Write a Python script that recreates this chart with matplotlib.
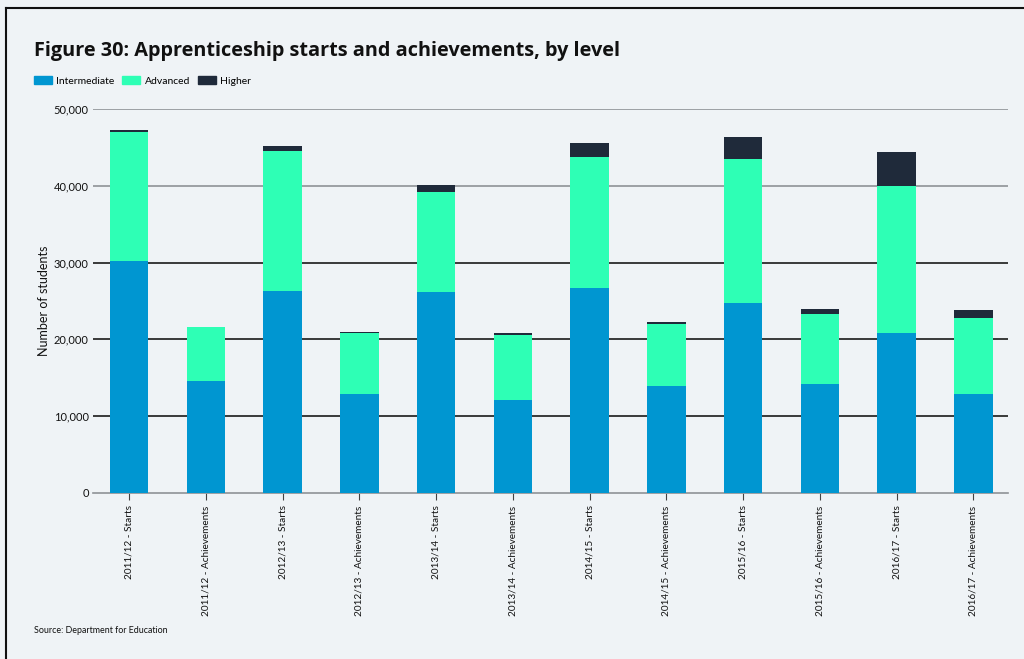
import matplotlib.pyplot as plt
from matplotlib.lines import Line2D
from matplotlib.patches import Patch
from matplotlib.ticker import FuncFormatter
import numpy as np

## categorías
years = ["2011/12", "2012/13", "2013/14", "2014/15", "2015/16", "2016/17"]
kinds = ["Starts", "Achievements"]
labels = [f"{y} - {k}" for y in years for k in kinds]

## valores por nivel (número de estudiantes)
intermediate = [30200, 14540, 26340, 12890, 26130, 12070,
                26650, 13930, 24780, 14150, 20870, 12930]
advanced = [16800, 7030, 18230, 7980, 13100, 8540,
            17140, 8030, 18750, 9110, 19100, 9860]
higher = [270, 0, 570, 130, 870, 180,
          1820, 260, 2860, 700, 4470, 1080]

bg = "#eff3f6"
c_int = "#0096d1"
c_adv = "#2effb5"
c_high = "#1f2a3a"
gray = "#8e9296"

plt.rcParams['font.family'] = ['Lato', 'DejaVu Sans']

fig = plt.figure(figsize=(10.24, 6.59), dpi=100, facecolor=bg)
ax = fig.add_axes([0.0908, 0.2519, 0.8935, 0.5827], facecolor=bg)

x = np.arange(len(labels))
w = 0.5
b1 = np.array(intermediate)
b2 = b1 + np.array(advanced)
ax.bar(x, intermediate, w, color=c_int, zorder=3, label="Intermediate")
ax.bar(x, advanced, w, bottom=b1, color=c_adv, zorder=3, label="Advanced")
ax.bar(x, higher, w, bottom=b2, color=c_high, zorder=3, label="Higher")

ax.set_xlim(-0.47, len(labels) - 0.55)
ax.set_ylim(0, 50000)
ax.set_yticks(np.arange(0, 50001, 10000))
ax.yaxis.set_major_formatter(FuncFormatter(lambda v, p: f"{int(v):,}"))

## líneas de grilla: las dos de arriba grises, el resto oscuras
ax.grid(True, axis='y', zorder=0, linewidth=1.2)
for val, gl in zip(ax.get_yticks(), ax.get_ygridlines()):
    gl.set_color(gray if val >= 40000 else "#1a1a1a")
    if val == 0:
        gl.set_visible(False)

for s in ["top", "right", "left"]:
    ax.spines[s].set_visible(False)
ax.spines["bottom"].set_color(gray)
ax.spines["bottom"].set_linewidth(1.2)

ax.set_xticks(x)
ax.set_xticklabels(labels, rotation=90, fontsize=7.2, color="#111")
ax.tick_params(axis='x', length=5, color="#444", pad=4)
ax.tick_params(axis='y', length=0, labelsize=8, pad=3, labelcolor="#111")

ax.set_ylabel("Number of students", fontsize=9, color="#111", labelpad=3)

## título, leyenda y fuente
fig.text(0.033, 0.922, "Figure 30: Apprenticeship starts and achievements, by level",
         fontsize=14.3, fontweight='bold', color="#111", va='center',
         family=['Open Sans', 'DejaVu Sans'])
handles = [Patch(color=c_int), Patch(color=c_adv), Patch(color=c_high)]
fig.legend(handles, ["Intermediate", "Advanced", "Higher"], loc='center left',
           bbox_to_anchor=(0.033, 0.877), ncol=3, frameon=False, fontsize=7.5,
           borderpad=0, borderaxespad=0,
           handlelength=1.75, handleheight=0.75, handletextpad=0.4, columnspacing=0.75)
fig.text(0.033, 0.043, "Source: Department for Education", fontsize=6.4, color="#111", va='center')

## marco superior e izquierdo
fig.add_artist(Line2D([0.006, 1.0], [0.988, 0.988], color="#111", linewidth=1.5))
fig.add_artist(Line2D([0.006, 0.006], [0.0, 0.988], color="#111", linewidth=1.5))

fig.savefig("out.png", dpi=100, facecolor=bg)
